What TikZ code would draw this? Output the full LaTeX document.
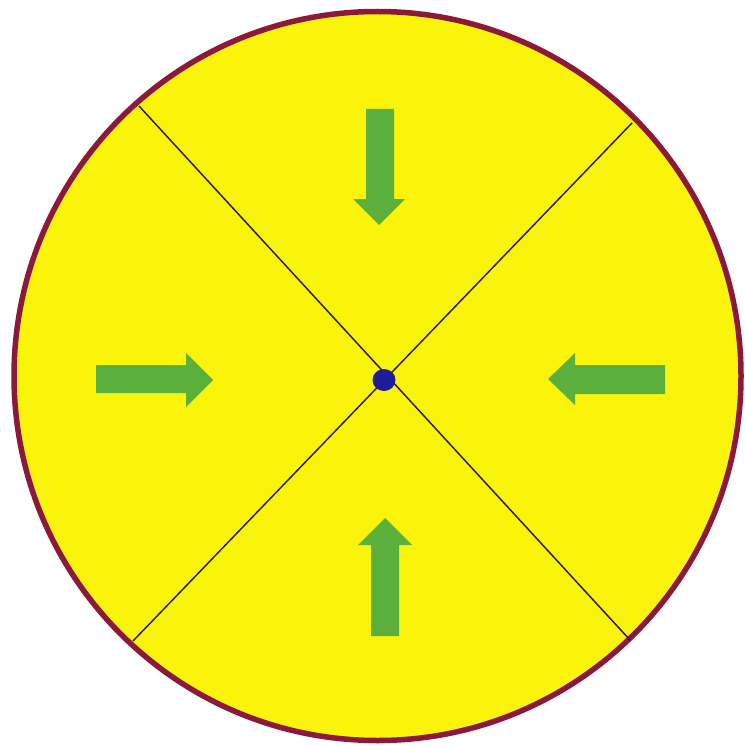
\documentclass[tikz,border=0pt]{standalone}
\begin{document}
\begin{tikzpicture}[x=1pt,y=-1pt,
  disc/.style={fill=discyellow,draw=rimred,line width=5.5pt},
  divider/.style={draw=divline,line width=1.5pt},
  greenarrow/.style={fill=arrowgreen,draw=none},
  hub/.style={fill=hubblue,draw=none}]
\definecolor{discyellow}{RGB}{250,244,10}
\definecolor{rimred}{RGB}{140,24,58}
\definecolor{divline}{RGB}{50,30,40}
\definecolor{arrowgreen}{RGB}{90,176,58}
\definecolor{hubblue}{RGB}{30,28,150}
\useasboundingbox (0,0) rectangle (744,746);
\fill[white] (0,0) rectangle (744,746);
\coordinate (c) at (377.5,376);
\draw[disc] (c) ellipse [x radius=363.5, y radius=364.5];
% dividers
\coordinate (tl) at (139,106);
\coordinate (br) at (630,640);
\coordinate (tr) at (632,123);
\coordinate (bl) at (133,641);
\draw[divider] (tl) -- (br);
\draw[divider] (tr) -- (bl);
% hub
\fill[hub] (384,380) ellipse [x radius=11.5, y radius=11];
% left arrow (pointing right)
\fill[greenarrow] (96,365) -- (186,365) -- (186,353) -- (213,380) -- (186,407) -- (186,393) -- (96,393) -- cycle;
% right arrow (pointing left)
\fill[greenarrow] (665,365) -- (575,365) -- (575,353) -- (548,379) -- (575,405) -- (575,394) -- (665,394) -- cycle;
% top arrow (pointing down)
\fill[greenarrow] (366,109) -- (394,109) -- (394,199) -- (405,199) -- (379,225) -- (353,199) -- (366,199) -- cycle;
% bottom arrow (pointing up)
\fill[greenarrow] (371,636) -- (399,636) -- (399,545) -- (412,545) -- (385,518) -- (358,545) -- (371,545) -- cycle;
\end{tikzpicture}
\end{document}
